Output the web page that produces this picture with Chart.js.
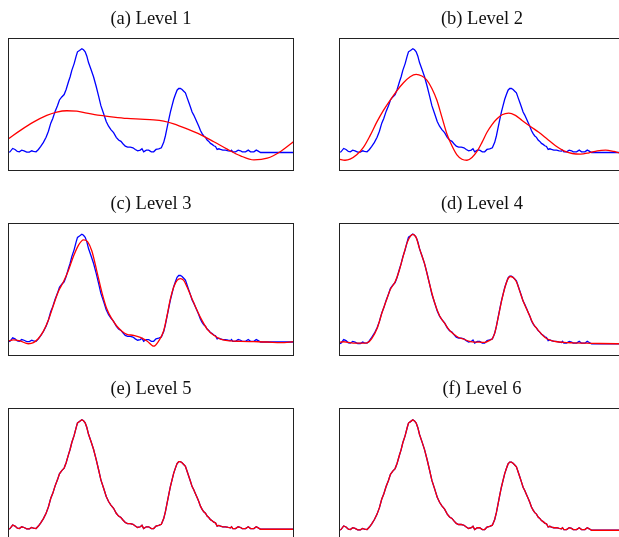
<!DOCTYPE html>
<html>
<head>
<meta charset="utf-8">
<script src="https://cdn.jsdelivr.net/npm/chart.js@4.4.1/dist/chart.umd.min.js"></script>
<style>
  html, body { margin: 0; padding: 0; background: #fff; overflow: hidden; width: 619px; height: 537px; }
  canvas { position: absolute; }
</style>
</head>
<body>
<canvas id="c1" width="286" height="171" style="left:8px; top:0px;"></canvas>
<canvas id="c2" width="286" height="171" style="left:339px; top:0px;"></canvas>
<canvas id="c3" width="286" height="171" style="left:8px; top:185px;"></canvas>
<canvas id="c4" width="286" height="171" style="left:339px; top:185px;"></canvas>
<canvas id="c5" width="286" height="171" style="left:8px; top:370px;"></canvas>
<canvas id="c6" width="286" height="171" style="left:339px; top:370px;"></canvas>
<script>
// Original signal (blue), sample positions and amplitudes
const sigX = [0, 6, 14, 21, 28, 34, 41, 48, 56, 64, 71, 76, 84, 91, 98, 106, 114, 121, 128, 134,
  141, 148, 154, 161, 168, 174, 181, 186, 191, 198, 204, 208, 214, 221, 226, 231, 236, 241, 248, 256,
  264, 271, 278, 286, 294, 301, 308, 316, 324, 331, 338, 344, 351, 358, 366, 374, 381, 388, 396, 401,
  406, 414, 421, 429, 436, 443, 451, 459, 466, 471, 476, 481, 486, 491, 496, 501, 506, 511, 516, 521,
  526, 531, 536, 541, 546, 551, 556, 561, 566, 571, 576, 581, 586, 591, 596, 601, 606, 611, 616, 621,
  626, 631, 636, 643, 651, 659, 666, 669, 673, 681, 689, 696, 701, 711, 719, 726, 736, 743, 749, 756, 856];
const sigY = [0.00, 0.02, 0.12, 0.09, 0.03, 0.02, 0.07, 0.05, 0.01, 0.01, 0.05, 0.03, 0.02, 0.09, 0.18, 0.30, 0.45, 0.63, 0.87, 1.01,
  1.22, 1.39, 1.56, 1.65, 1.72, 1.87, 2.10, 2.25, 2.44, 2.64, 2.86, 2.99, 3.03, 3.08, 3.05, 2.99, 2.86, 2.67, 2.48, 2.25,
  1.96, 1.68, 1.39, 1.16, 0.92, 0.78, 0.68, 0.59, 0.45, 0.37, 0.33, 0.26, 0.19, 0.16, 0.16, 0.14, 0.09, 0.05, 0.07, 0.11,
  0.02, 0.07, 0.07, 0.02, 0.02, 0.09, 0.11, 0.14, 0.30, 0.49, 0.73, 0.97, 1.20, 1.39, 1.58, 1.72, 1.85, 1.90, 1.90, 1.87,
  1.82, 1.77, 1.63, 1.49, 1.35, 1.20, 1.11, 1.00, 0.89, 0.78, 0.65, 0.56, 0.49, 0.45, 0.37, 0.33, 0.27, 0.24, 0.20, 0.18,
  0.09, 0.11, 0.09, 0.07, 0.07, 0.05, 0.04, 0.07, 0.02, 0.02, 0.07, 0.05, 0.02, 0.02, 0.07, 0.02, 0.02, 0.07, 0.04, 0.00, 0.00];

// Reconstructions (red) per level
const lvl1X = [0, 36, 76, 116, 146, 176, 206, 236, 276, 316, 356, 396, 436, 466, 496, 536, 576, 616, 656, 696, 736, 776, 816, 856];
const lvl1Y = [0.40, 0.65, 0.90, 1.10, 1.20, 1.24, 1.23, 1.17, 1.10, 1.05, 1.01, 0.99, 0.97, 0.93, 0.85, 0.70, 0.53, 0.32, 0.10, -0.10, -0.22, -0.17, 0.03, 0.33];

const lvl2X = [0, 18, 33, 53, 73, 93, 113, 133, 153, 173, 193, 213, 231, 248, 263, 278, 293, 308, 323, 338, 353, 368, 383,
  398, 413, 428, 443, 458, 473, 488, 508, 528, 548, 573, 598, 623, 648, 673, 698, 723, 748, 773, 798, 823, 840, 856];
const lvl2Y = [-0.20, -0.23, -0.20, -0.07, 0.15, 0.50, 0.90, 1.25, 1.55, 1.83, 2.07, 2.25, 2.32, 2.27, 2.15, 1.90, 1.55, 1.05, 0.55, 0.20, -0.07, -0.20, -0.23,
  -0.15, 0.03, 0.30, 0.60, 0.83, 1.00, 1.12, 1.17, 1.10, 0.95, 0.77, 0.60, 0.40, 0.20, 0.05, -0.03, -0.05, -0.01, 0.05, 0.07, 0.03, -0.01, -0.02];

const lvl3X = [0, 16, 36, 61, 76, 91, 106, 121, 136, 151, 166, 181, 196, 211, 226, 238, 251, 266, 281, 296, 311, 326, 341,
  356, 376, 396, 416, 436, 451, 466, 476, 486, 496, 506, 516, 526, 536, 551, 566, 581, 596, 616, 636, 666, 696, 736, 776, 816, 856];
const lvl3Y = [0.03, 0.06, 0.03, -0.05, -0.02, 0.10, 0.31, 0.63, 1.05, 1.45, 1.72, 2.05, 2.45, 2.77, 2.92, 2.87, 2.60, 2.02, 1.42, 0.94, 0.66, 0.45, 0.31,
  0.22, 0.19, 0.13, 0.03, -0.12, 0.03, 0.32, 0.75, 1.23, 1.57, 1.76, 1.81, 1.76, 1.57, 1.23, 0.90, 0.61, 0.37, 0.19, 0.08, 0.03, 0.02, 0.01, 0.00, -0.02, 0.01];

const lvl4X = [0, 14, 28, 50, 70, 84, 98, 114, 128, 141, 154, 168, 181, 191, 204, 214, 221, 231, 241, 256, 271, 286, 301, 316,
  331, 344, 358, 374, 388, 406, 421, 436, 451, 459, 466, 476, 486, 496, 506, 513, 521, 531, 541, 551, 561, 571, 581, 591,
  601, 611, 621, 636, 651, 673, 700, 740, 780, 856];
const lvl4Y = [0.04, 0.06, 0.04, 0.02, 0.02, 0.03, 0.15, 0.43, 0.85, 1.20, 1.53, 1.74, 2.08, 2.42, 2.84, 3.02, 3.07, 2.98, 2.67, 2.25, 1.68, 1.16, 0.79, 0.58,
  0.38, 0.27, 0.18, 0.13, 0.08, 0.05, 0.05, 0.04, 0.10, 0.15, 0.30, 0.72, 1.18, 1.56, 1.83, 1.89, 1.86, 1.74, 1.48, 1.20, 0.99, 0.78, 0.57, 0.44,
  0.33, 0.23, 0.15, 0.09, 0.06, 0.04, 0.03, 0.02, 0.01, 0.00];

// levels 5 and 6 lie right on top of the signal
const lvl5X = sigX, lvl5Y = sigY;
const lvl6X = sigX, lvl6Y = sigY;

const titles = ["(a) Level 1", "(b) Level 2", "(c) Level 3", "(d) Level 4", "(e) Level 5", "(f) Level 6"];
const yMin = [-0.55, -0.55, -0.40, -0.34, -0.33, -0.30];
const yMax = [3.40, 3.40, 3.40, 3.39, 3.41, 3.41];

const reconX = [lvl1X, lvl2X, lvl3X, lvl4X, lvl5X, lvl6X];
const reconY = [lvl1Y, lvl2Y, lvl3Y, lvl4Y, lvl5Y, lvl6Y];

// draws the black box round each plot area
const frame = {
  id: "frame",
  afterDraw(chart) {
    const { ctx, chartArea: a } = chart;
    ctx.save();
    ctx.strokeStyle = "#222";
    ctx.lineWidth = 1;
    ctx.strokeRect(a.left + 0.5, a.top + 0.5, a.right - a.left - 1, a.bottom - a.top - 1);
    ctx.restore();
  },
};

function points(xs, ys) {
  return xs.map((x, i) => ({ x: x, y: ys[i] }));
}

titles.forEach((title, i) => {
  const ctx = document.getElementById("c" + (i + 1)).getContext("2d");
  new Chart(ctx, {
    type: "line",
    data: {
      datasets: [
        {
          label: "signal",
          data: points(sigX, sigY),
          borderColor: "#0000ff",
          borderWidth: 1.3,
          pointRadius: 0,
          tension: 0,
          order: 1,
        },
        {
          label: "reconstruction",
          data: points(reconX[i], reconY[i]),
          borderColor: "#ff0000",
          borderWidth: 1.3,
          pointRadius: 0,
          cubicInterpolationMode: i < 4 ? "monotone" : "default",
          tension: 0,
          order: 0,
        },
      ],
    },
    options: {
      responsive: false,
      animation: false,
      layout: { padding: 0 },
      scales: {
        x: { type: "linear", display: false, min: 0, max: 856 },
        y: { display: false, min: yMin[i], max: yMax[i] },
      },
      plugins: {
        legend: { display: false },
        tooltip: { enabled: false },
        title: {
          display: true,
          text: title,
          color: "#111",
          font: { family: "'Liberation Serif', 'Times New Roman', serif", size: 18.5, weight: "normal", lineHeight: 1.2 },
          padding: { top: 8.4, bottom: 7.4 },
        },
      },
    },
    plugins: [frame],
  });
});
</script>
</body>
</html>
